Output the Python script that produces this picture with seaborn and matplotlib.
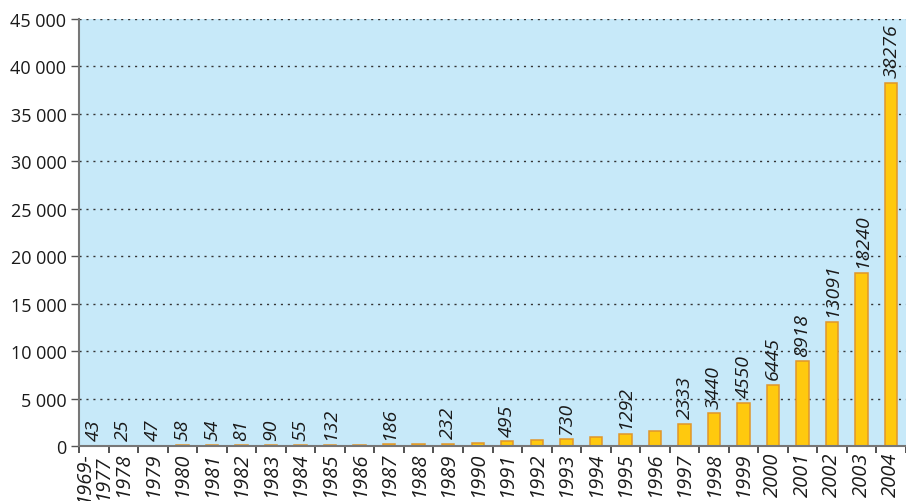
import matplotlib
matplotlib.use("Agg")
import matplotlib.pyplot as plt
import seaborn as sns
import pandas as pd
from matplotlib.ticker import FuncFormatter, FixedLocator

years = ["1969-\n1977", "1978", "1979", "1980", "1981", "1982", "1983", "1984",
         "1985", "1986", "1987", "1988", "1989", "1990", "1991", "1992", "1993",
         "1994", "1995", "1996", "1997", "1998", "1999", "2000", "2001", "2002",
         "2003", "2004"]
counts = [43, 25, 47, 58, 54, 81, 90, 55, 132, 150, 186, 210, 232, 360, 495, 680,
          730, 960, 1292, 1580, 2333, 3440, 4550, 6445, 8918, 13091, 18240, 38276]
shown = [True, True, True, True, True, True, True, True, True, False, True, False,
         True, False, True, False, True, False, True, False, True, True, True, True,
         True, True, True, True]

df = pd.DataFrame({"year": years, "count": counts})

sns.set_style("white")
plt.rcParams["font.family"] = ["Open Sans", "DejaVu Sans"]

fig = plt.figure(figsize=(9.06, 5.02), dpi=100)
ax = fig.add_axes([79 / 906, 1 - 447 / 502, 1 - 79 / 906, 427 / 502])
ax.set_facecolor("#c7e9f9")

sns.barplot(data=df, x="year", y="count", order=years, color="#ffc90e",
            edgecolor="#e0962a", linewidth=1.1, width=0.42, saturation=1, ax=ax)

labels = [str(c) if s else "" for c, s in zip(counts, shown)]
ax.bar_label(ax.containers[0], labels=labels, rotation=90, fontstyle="italic",
             fontsize=14, color="#1a1a1a", padding=4)

ax.set_xlim(-0.5, len(years) - 0.5)
ax.set_ylim(0, 45000)
ax.set_yticks(range(0, 45001, 5000))
ax.yaxis.set_major_formatter(FuncFormatter(lambda v, p: f"{int(v):,}".replace(",", " ")))
ax.grid(axis="y", color="#333333", linestyle=(0, (1.5, 3.5)), linewidth=1)
ax.set_axisbelow(True)

ax.set_xlabel("")
ax.set_ylabel("")
ax.tick_params(axis="x", which="major", length=0, pad=4, labelsize=14.5,
               labelcolor="#1a1a1a", rotation=90)
for t in ax.get_xticklabels():
    t.set_fontstyle("italic")
    t.set_verticalalignment("top")
    t.set_linespacing(0.95)
ax.xaxis.set_minor_locator(FixedLocator([i - 0.5 for i in range(len(years) + 1)]))
ax.tick_params(axis="x", which="minor", length=5, width=1.2, color="#333333",
               direction="out", bottom=True)
ax.tick_params(axis="y", length=6, width=1, color="#555555", labelsize=13,
               labelcolor="#1a1a1a", left=True, direction="out", pad=3)

for side in ["top", "right"]:
    ax.spines[side].set_visible(False)
ax.spines["left"].set_color("#777777")
ax.spines["left"].set_linewidth(1.5)
ax.spines["bottom"].set_color("#777777")
ax.spines["bottom"].set_linewidth(1.5)

fig.savefig("out.png", dpi=100)
